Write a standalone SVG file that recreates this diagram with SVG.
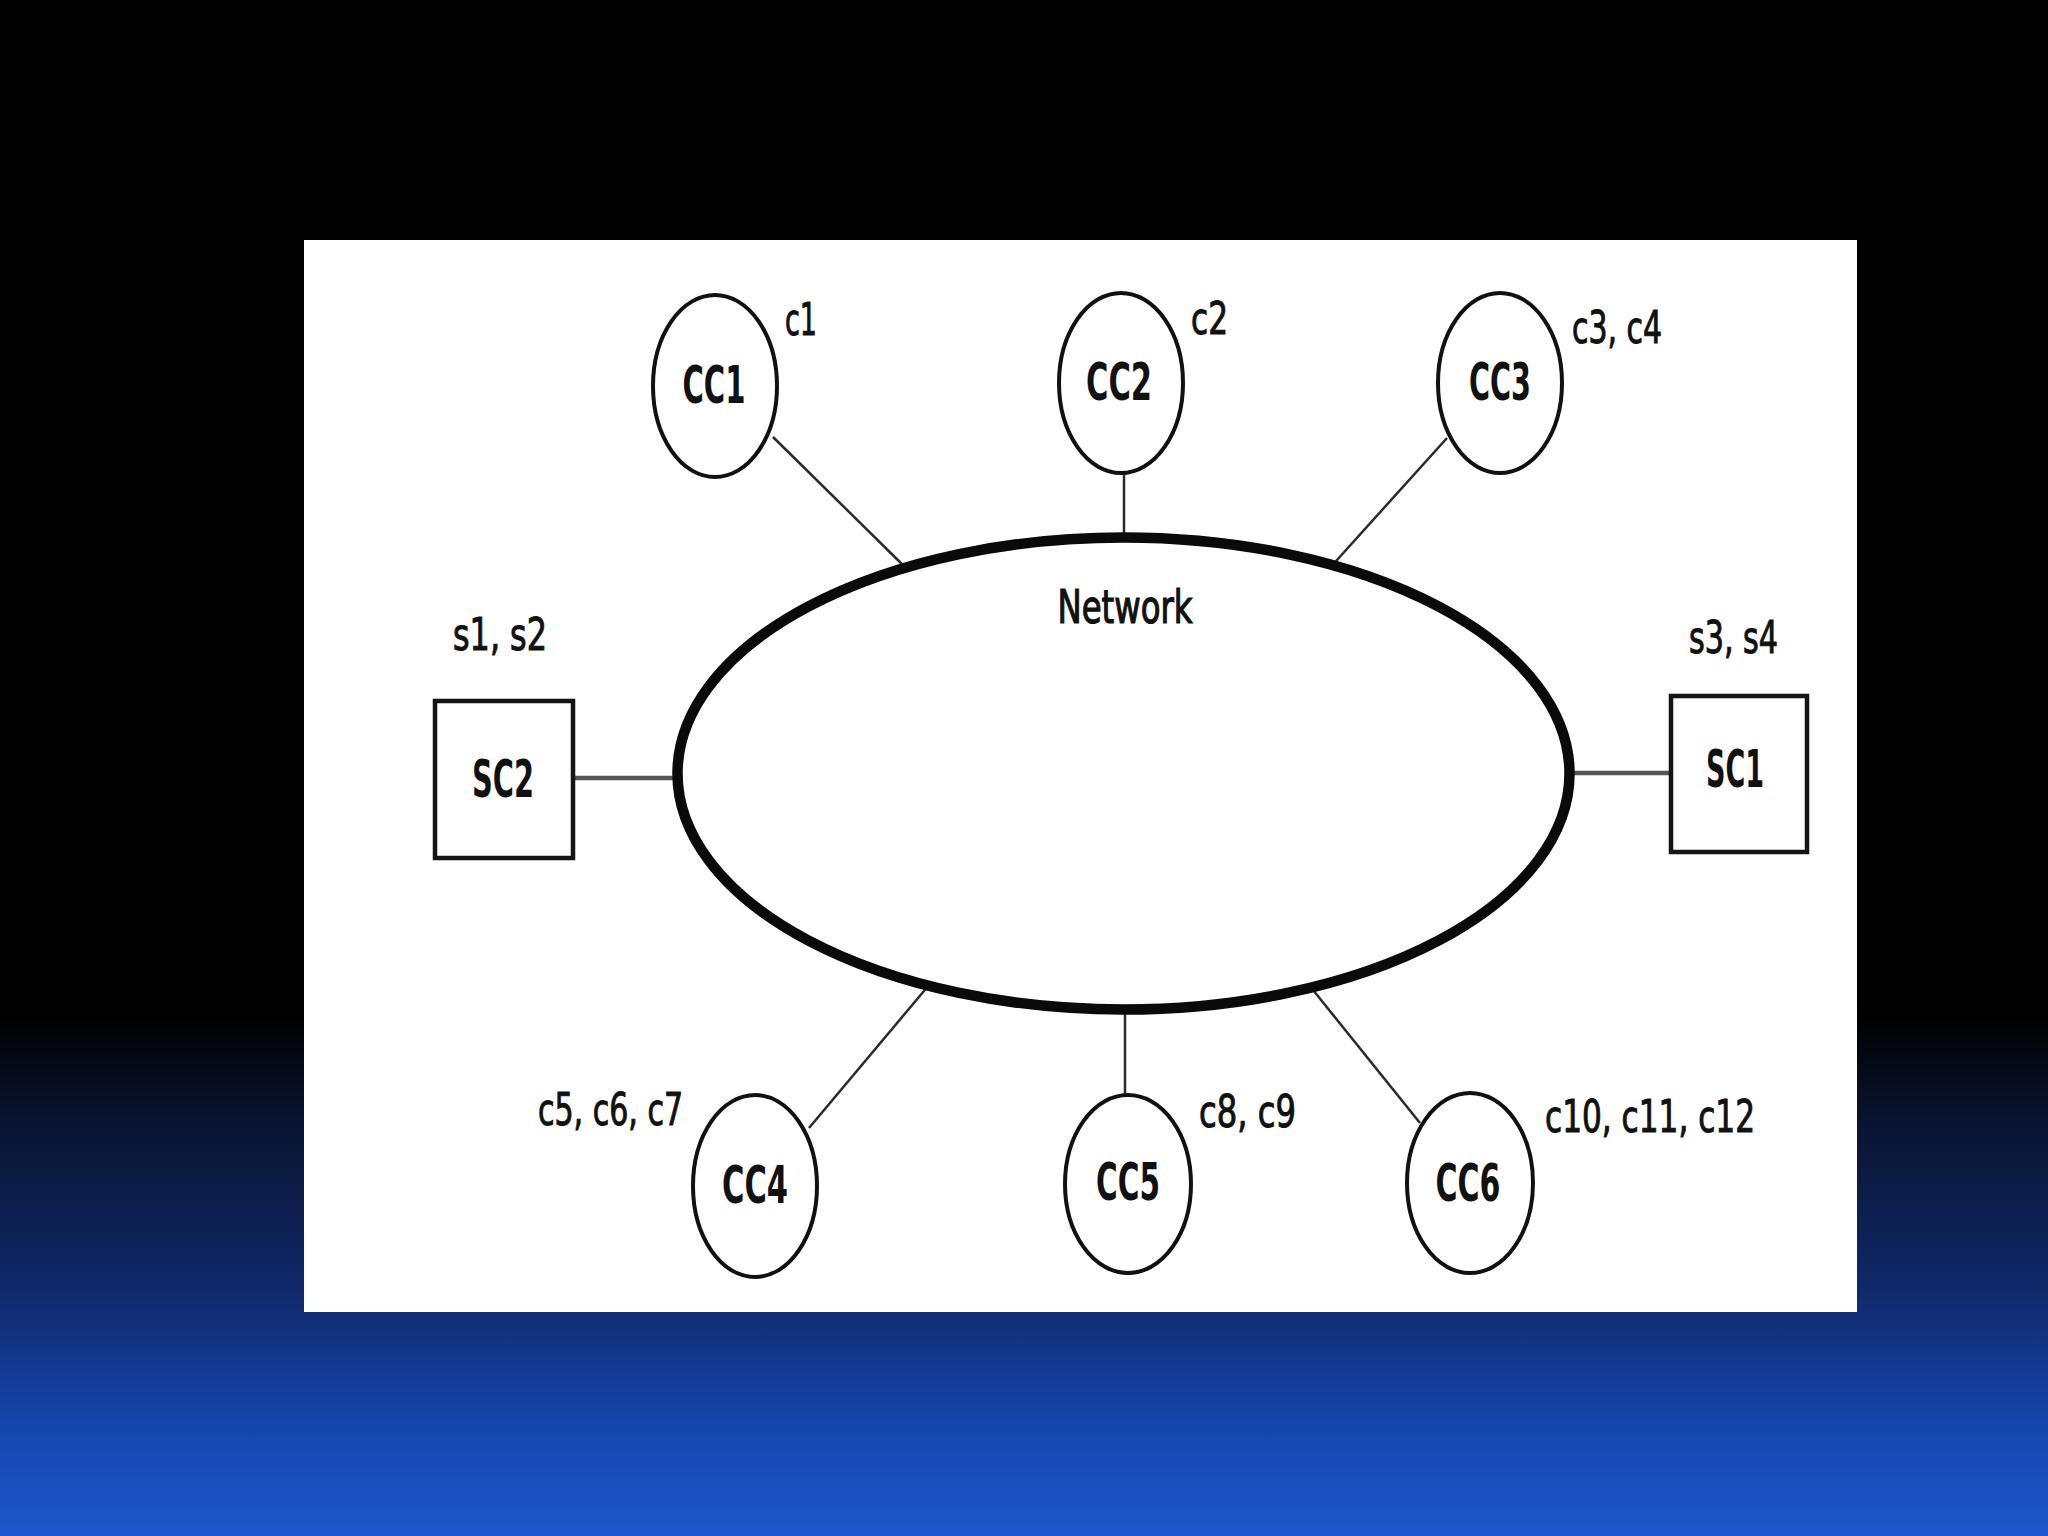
<svg xmlns="http://www.w3.org/2000/svg" width="2048" height="1536" viewBox="0 0 2048 1536">
  <defs>
    <linearGradient id="bg" gradientUnits="userSpaceOnUse" x1="0" y1="0" x2="0" y2="1536">
      <stop offset="0" stop-color="#000000"/>
      <stop offset="0.66" stop-color="#000000"/>
      <stop offset="0.73" stop-color="#0a1430"/>
      <stop offset="0.84" stop-color="#10296a"/>
      <stop offset="0.92" stop-color="#1543a8"/>
      <stop offset="1" stop-color="#1e57cd"/>
    </linearGradient>
    <style>
      .node { fill: #ffffff; stroke: #111111; stroke-width: 4; }
      .net { fill: #ffffff; stroke: #0a0a0a; stroke-width: 10.5; }
      .box { fill: #ffffff; stroke: #151515; stroke-width: 4.5; }
      .conn { stroke: #2a2a2a; stroke-width: 2.5; fill: none; }
      .sconn { stroke: #555555; stroke-width: 4.5; fill: none; }
      .lbl { font-family: "DejaVu Sans Condensed", "Liberation Sans", sans-serif; font-weight: bold; font-size: 52px; fill: #111111; text-anchor: middle; }
      .tag { font-family: "DejaVu Sans Condensed", "Liberation Sans", sans-serif; font-size: 44px; fill: #111111; stroke: #111111; stroke-width: 1; }
      .netlbl { font-family: "DejaVu Sans Condensed", "Liberation Sans", sans-serif; font-size: 46px; fill: #111111; stroke: #111111; stroke-width: 1.2; text-anchor: middle; }
    </style>
  </defs>
  <rect x="0" y="0" width="2048" height="1536" fill="url(#bg)"/>
  <rect x="304" y="240" width="1553" height="1072" fill="#ffffff"/>

  <g id="connectors">
    <line class="conn" x1="773" y1="437" x2="910" y2="572"/>
    <line class="conn" x1="1124" y1="473" x2="1124" y2="545"/>
    <line class="conn" x1="1447" y1="438" x2="1328" y2="570"/>
    <line class="sconn" x1="573" y1="778" x2="685" y2="778"/>
    <line class="sconn" x1="1562" y1="773" x2="1671" y2="773"/>
    <line class="conn" x1="809" y1="1128" x2="929" y2="985"/>
    <line class="conn" x1="1125" y1="1095" x2="1125" y2="1000"/>
    <line class="conn" x1="1420" y1="1123" x2="1309" y2="985"/>
  </g>

  <g id="network">
    <ellipse class="net" cx="1123.5" cy="773.5" rx="446" ry="236"/>
    <text class="netlbl" x="1125" y="623" textLength="135" lengthAdjust="spacingAndGlyphs">Network</text>
  </g>

  <g id="CC1">
    <ellipse class="node" cx="715" cy="386" rx="62" ry="91"/>
    <text class="lbl" x="714" y="403" textLength="63" lengthAdjust="spacingAndGlyphs">CC1</text>
    <text class="tag" x="785" y="335" textLength="32" lengthAdjust="spacingAndGlyphs">c1</text>
  </g>
  <g id="CC2">
    <ellipse class="node" cx="1121" cy="383" rx="62" ry="90"/>
    <text class="lbl" x="1119" y="400" textLength="66" lengthAdjust="spacingAndGlyphs">CC2</text>
    <text class="tag" x="1191" y="334" textLength="37" lengthAdjust="spacingAndGlyphs">c2</text>
  </g>
  <g id="CC3">
    <ellipse class="node" cx="1500" cy="383" rx="62" ry="90"/>
    <text class="lbl" x="1500" y="400" textLength="62" lengthAdjust="spacingAndGlyphs">CC3</text>
    <text class="tag" x="1572" y="343" textLength="90" lengthAdjust="spacingAndGlyphs">c3, c4</text>
  </g>
  <g id="SC2">
    <rect class="box" x="435" y="701" width="138" height="157"/>
    <text class="lbl" x="503" y="797" textLength="62" lengthAdjust="spacingAndGlyphs">SC2</text>
    <text class="tag" x="453" y="650" textLength="94" lengthAdjust="spacingAndGlyphs">s1, s2</text>
  </g>
  <g id="SC1">
    <rect class="box" x="1671" y="696" width="136" height="156"/>
    <text class="lbl" x="1735" y="787" textLength="58" lengthAdjust="spacingAndGlyphs">SC1</text>
    <text class="tag" x="1689" y="653" textLength="89" lengthAdjust="spacingAndGlyphs">s3, s4</text>
  </g>
  <g id="CC4">
    <ellipse class="node" cx="755" cy="1186" rx="62" ry="91"/>
    <text class="lbl" x="755" y="1203" textLength="66" lengthAdjust="spacingAndGlyphs">CC4</text>
    <text class="tag" x="538" y="1125" textLength="145" lengthAdjust="spacingAndGlyphs">c5, c6, c7</text>
  </g>
  <g id="CC5">
    <ellipse class="node" cx="1128" cy="1184" rx="63" ry="89"/>
    <text class="lbl" x="1128" y="1200" textLength="64" lengthAdjust="spacingAndGlyphs">CC5</text>
    <text class="tag" x="1199" y="1127" textLength="97" lengthAdjust="spacingAndGlyphs">c8, c9</text>
  </g>
  <g id="CC6">
    <ellipse class="node" cx="1470" cy="1183" rx="63" ry="90"/>
    <text class="lbl" x="1468" y="1201" textLength="65" lengthAdjust="spacingAndGlyphs">CC6</text>
    <text class="tag" x="1545" y="1132" textLength="210" lengthAdjust="spacingAndGlyphs">c10, c11, c12</text>
  </g>
</svg>
